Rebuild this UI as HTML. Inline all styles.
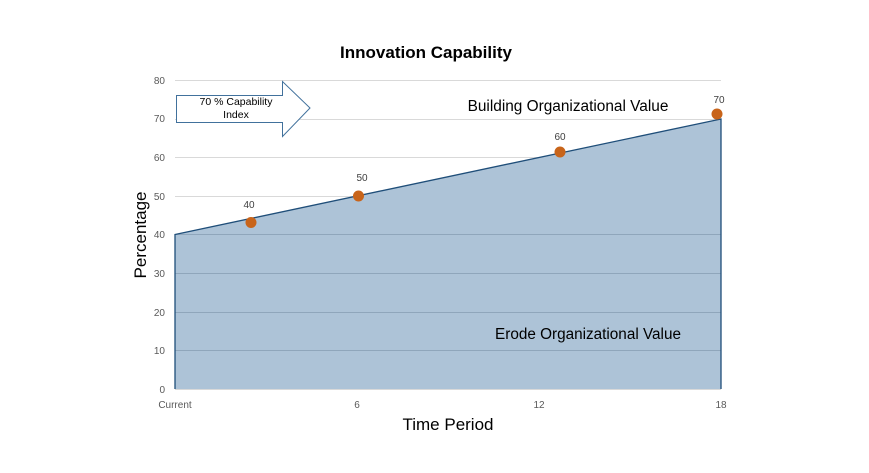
<!DOCTYPE html>
<html><head><meta charset="utf-8"><style>
html,body{margin:0;padding:0;background:#fff;}
svg{display:block;font-family:"Liberation Sans",sans-serif;}
</style></head><body>
<svg width="869" height="473" viewBox="0 0 869 473">
<rect width="869" height="473" fill="#fff"/>
<text x="426" y="58" text-anchor="middle" font-size="17" font-weight="bold">Innovation Capability</text>
<g stroke="#d9d9d9" stroke-width="1">
<line x1="175" y1="80.5" x2="721" y2="80.5"/>
<line x1="175" y1="119.5" x2="721" y2="119.5"/>
<line x1="175" y1="157.5" x2="721" y2="157.5"/>
<line x1="175" y1="196.5" x2="721" y2="196.5"/>
</g>
<polygon points="175,234.5 721,119 721,389 175,389" fill="#adc3d7"/>
<g stroke="#8fa6bb" stroke-width="1">
<line x1="175" y1="234.5" x2="721" y2="234.5"/>
<line x1="175" y1="273.5" x2="721" y2="273.5"/>
<line x1="175" y1="312.5" x2="721" y2="312.5"/>
<line x1="175" y1="350.5" x2="721" y2="350.5"/>
</g>
<line x1="175" y1="389.5" x2="721" y2="389.5" stroke="#d9d9d9"/>
<polyline points="175,389 175,234.5 721,119 721,389" fill="none" stroke="#1f4e79" stroke-width="1.3"/>
<g font-size="10" fill="#595959" text-anchor="end">
<text x="165" y="84">80</text><text x="165" y="122">70</text><text x="165" y="161">60</text>
<text x="165" y="200">50</text><text x="165" y="238">40</text><text x="165" y="277">30</text>
<text x="165" y="316">20</text><text x="165" y="354">10</text><text x="165" y="393">0</text>
</g>
<g font-size="10" fill="#595959" text-anchor="middle">
<text x="175" y="408">Current</text><text x="357" y="408">6</text>
<text x="539" y="408">12</text><text x="721" y="408">18</text>
</g>
<text x="448" y="430" text-anchor="middle" font-size="17">Time Period</text>
<text transform="translate(146,235) rotate(-90)" text-anchor="middle" font-size="17">Percentage</text>
<polygon points="176.5,95.5 282.5,95.5 282.5,81.5 310,108 282.5,136.5 282.5,122.5 176.5,122.5" fill="#fff" stroke="#41719c" stroke-width="1"/>
<text x="236" y="105" text-anchor="middle" font-size="10.5">70 % Capability</text>
<text x="236" y="118" text-anchor="middle" font-size="10.5">Index</text>
<text x="568" y="111" text-anchor="middle" font-size="15.4">Building Organizational Value</text>
<text x="588" y="339" text-anchor="middle" font-size="15.3">Erode Organizational Value</text>
<g fill="#c8641a">
<circle cx="251" cy="222.5" r="5.5"/><circle cx="358.5" cy="196" r="5.5"/>
<circle cx="560" cy="152" r="5.5"/><circle cx="717" cy="114" r="5.5"/>
</g>
<g font-size="10" fill="#404040" text-anchor="middle">
<text x="249" y="208">40</text><text x="362" y="181">50</text>
<text x="560" y="140">60</text><text x="719" y="103">70</text>
</g>
</svg>
</body></html>
